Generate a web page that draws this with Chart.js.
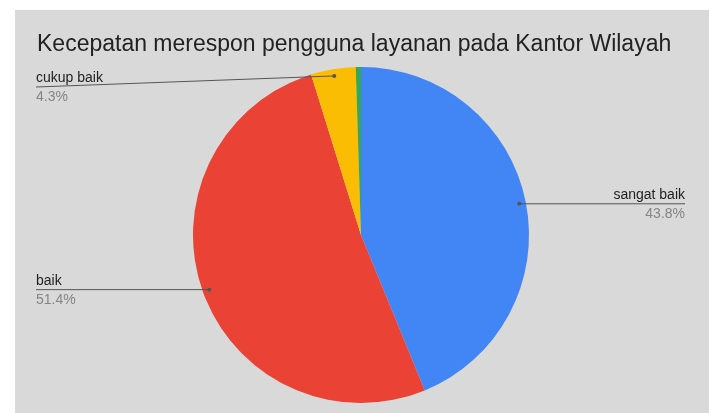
<!DOCTYPE html>
<html lang="id">
<head>
    <meta charset="UTF-8">
    <title>Kecepatan merespon</title>
    <script src="https://cdn.jsdelivr.net/npm/chart.js@4.4.1/dist/chart.umd.min.js"></script>
    <style>
        html, body { margin: 0; padding: 0; background: #ffffff; }
        .container {
            position: absolute;
            left: 15px;
            top: 10px;
            width: 694px;
            height: 403px;
            background: #d9d9d9;
        }
    </style>
</head>
<body>
    <div class="container">
        <canvas id="pieChart" width="694" height="403"></canvas>
    </div>
    <script>
        var labels = ["sangat baik", "baik", "cukup baik", "kurang baik"];
        var values = [43.8, 51.4, 4.3, 0.5];
        var colors = ["#4285f4", "#ea4335", "#fbbc04", "#34a853"];
        var title = "Kecepatan merespon pengguna layanan pada Kantor Wilayah";

        // title + google-sheets style leader labels
        var sheetLabels = {
            id: 'sheetLabels',
            afterDatasetsDraw: function (chart) {
                var ctx = chart.ctx;
                var area = chart.chartArea;
                var meta = chart.getDatasetMeta(0);
                var total = values.reduce(function (a, b) { return a + b; }, 0);

                ctx.save();
                ctx.fillStyle = '#222222';
                ctx.font = '23px "Liberation Sans", Arial, sans-serif';
                ctx.textAlign = 'left';
                ctx.textBaseline = 'alphabetic';
                ctx.fillText(title, 22, 41);

                ctx.font = '14px "Liberation Sans", Arial, sans-serif';
                for (var i = 0; i < meta.data.length; i++) {
                    var pct = values[i] / total * 100;
                    if (pct < 1) continue;
                    var arc = meta.data[i];
                    var mid = (arc.startAngle + arc.endAngle) / 2;
                    var r = arc.outerRadius * 0.96;
                    var ax = arc.x + Math.cos(mid) * r;
                    var ay = arc.y + Math.sin(mid) * r;
                    var lineY = Math.max(ay, area.top + 20);
                    var right = Math.cos(mid) > 0;
                    var ex = right ? 670 : 21;

                    ctx.strokeStyle = '#555555';
                    ctx.lineWidth = 1;
                    ctx.beginPath();
                    ctx.moveTo(ex, lineY);
                    ctx.lineTo(ax, ay);
                    ctx.stroke();
                    ctx.fillStyle = '#555555';
                    ctx.beginPath();
                    ctx.arc(ax, ay, 2, 0, Math.PI * 2);
                    ctx.fill();

                    ctx.textAlign = right ? 'right' : 'left';
                    ctx.fillStyle = '#222222';
                    ctx.fillText(labels[i], ex, lineY - 5);
                    ctx.fillStyle = '#858585';
                    ctx.fillText(pct.toFixed(1) + '%', ex, lineY + 14);
                }
                ctx.restore();
            }
        };

        var ctx = document.getElementById("pieChart").getContext('2d');
        var pieChart = new Chart(ctx, {
            type: 'pie',
            data: {
                labels: labels,
                datasets: [{
                    data: values,
                    backgroundColor: colors,
                    borderWidth: 0
                }]
            },
            options: {
                responsive: false,
                animation: false,
                layout: {
                    padding: { left: 100, right: 102, top: 57, bottom: 10 }
                },
                plugins: {
                    legend: { display: false },
                    tooltip: { enabled: false }
                }
            },
            plugins: [sheetLabels]
        });
    </script>
</body>
</html>
